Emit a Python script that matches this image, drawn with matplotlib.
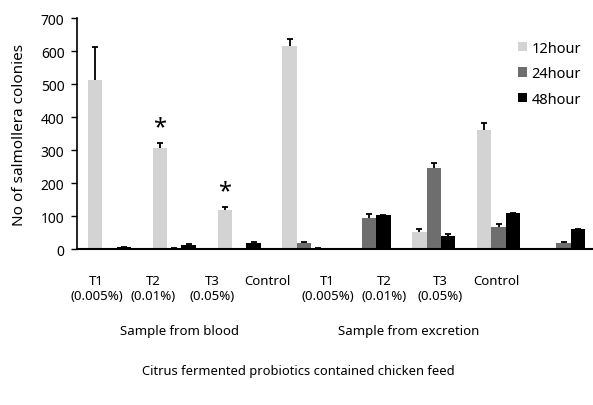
import numpy as np
import matplotlib.pyplot as plt

plt.rcParams['font.family'] = ['Noto Sans', 'DejaVu Sans']

groups = ['T1', 'T2', 'T3', 'Control', 'T1', 'T2', 'T3', 'Control']
doses = ['(0.005%)', '(0.01%)', '(0.05%)', '', '(0.005%)', '(0.01%)', '(0.05%)', '']
series = ['12hour', '24hour', '48hour']

# colony counts: blood T1..Control, then excretion T1..Control
h12 = [514, 308, 117, 615, 1, 52, 361, 0]
h24 = [0, 2, 1, 17, 93, 245, 67, 17]
h48 = [5, 13, 19, 4, 104, 41, 108, 61]
# upper error only
e12 = [100, 14, 10, 23, 0, 8, 20, 0]
e24 = [0, 0, 0, 4, 12, 17, 10, 5]
e48 = [1, 3, 3, 0, 0, 4, 2, 0]

star_groups = [1, 2]   # T2 and T3 blood, 12hour bars

colors = ['#d3d3d3', '#6e6e6e', '#000000']

fig = plt.figure(figsize=(5.93, 4.06), dpi=100)
ax = fig.add_axes([0.1298, 0.3842, 0.8752, 0.568])

x = np.arange(len(groups)) + 0.5
w = 1 / 4.5
for k, (vals, errs) in enumerate(zip([h12, h24, h48], [e12, e24, e48])):
    pos = x + (k - 1) * w
    ax.bar(pos, vals, width=w, color=colors[k], label=series[k])
    eb = ax.errorbar(pos, vals, yerr=[np.zeros(len(errs)), errs], fmt='none',
                     ecolor='black', elinewidth=1.3, capsize=2.2, capthick=1.3)
    eb[1][0].set_visible(False)   # only the upper cap

for g in star_groups:
    px = x[g] - w
    ax.text(px, h12[g] + e12[g] + 12, '*', ha='center', va='bottom',
            fontsize=17, color='black')

ax.set_xlim(0, 8)
ax.set_ylim(0, 700)
ax.set_yticks(range(0, 701, 100))
ax.tick_params(axis='y', direction='out', length=4, width=1, labelsize=10, pad=5)
ax.tick_params(axis='x', bottom=False, labelbottom=False)
for s in ['top', 'right']:
    ax.spines[s].set_visible(False)
ax.spines['left'].set_linewidth(1.2)
ax.spines['bottom'].set_linewidth(1.5)

ax.set_ylabel('No of salmollera colonies', fontsize=11, labelpad=10)

# category labels sit under the axis, placed by hand
label_x = [0.305, 1.18, 2.08, 2.94, 3.86, 4.73, 5.60, 6.47]
tr = ax.get_xaxis_transform()
for lx, g, d in zip(label_x, groups, doses):
    ax.text(lx, -0.135, g, transform=tr, ha='center', va='center', fontsize=9.5)
    if d:
        ax.text(lx, -0.2, d, transform=tr, ha='center', va='center', fontsize=9.5)

fig.text(180 / 593, 1 - 332 / 406, 'Sample from blood', ha='center', va='center', fontsize=9.5)
fig.text(409 / 593, 1 - 332 / 406, 'Sample from excretion', ha='center', va='center', fontsize=9.5)
fig.text(298 / 593, 1 - 371 / 406, 'Citrus fermented probiotics contained chicken feed',
         ha='center', va='center', fontsize=9.3)

ax.legend(loc='upper left', bbox_to_anchor=(0.825, 0.96), frameon=False,
          handlelength=0.6, handleheight=0.6, handletextpad=0.3,
          labelspacing=0.72, fontsize=10.5)

fig.savefig('out.png', dpi=100)
